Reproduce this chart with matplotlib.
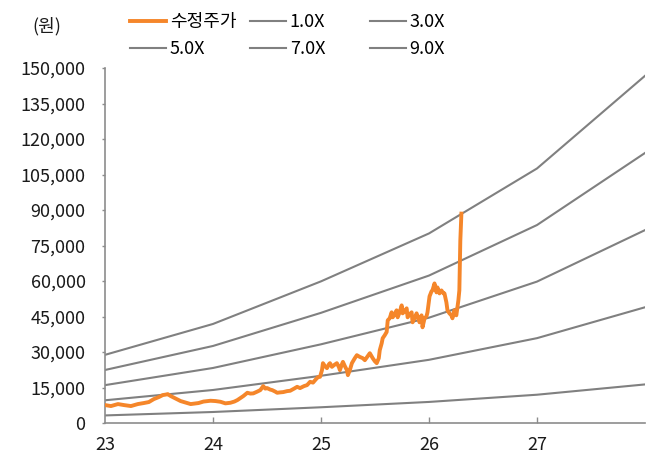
#!/usr/bin/env python

import numpy as np
import matplotlib.pyplot as plt
from matplotlib.ticker import FuncFormatter

plt.rcParams['font.family'] = ['Noto Sans CJK KR', 'DejaVu Sans']

# PBR band: book value per share at each year start, and the multiples
band_years = [23, 24, 25, 26, 27, 28]
bps = [3200, 4650, 6650, 8900, 11950, 16300]
multiples = [1.0, 3.0, 5.0, 7.0, 9.0]

# adjusted share price (year as fraction, won)
price_t = [
    23.000, 23.055, 23.120, 23.175, 23.240, 23.304, 23.359, 23.406, 23.452, 23.498,
    23.535, 23.562, 23.581, 23.608, 23.627, 23.664, 23.700, 23.747, 23.793, 23.829,
    23.866, 23.912, 23.949, 23.977, 24.023, 24.069, 24.115, 24.161, 24.198, 24.226,
    24.253, 24.281, 24.318, 24.346, 24.373, 24.410, 24.438, 24.465, 24.484, 24.502,
    24.530, 24.548, 24.576, 24.594, 24.622, 24.650, 24.687, 24.714, 24.751, 24.779,
    24.806, 24.843, 24.871, 24.899, 24.926, 24.954, 24.972, 24.991, 25.009, 25.018,
    25.037, 25.055, 25.074, 25.083, 25.101, 25.120, 25.147, 25.166, 25.175, 25.194,
    25.203, 25.221, 25.240, 25.249, 25.267, 25.286, 25.313, 25.332, 25.359, 25.387,
    25.406, 25.433, 25.452, 25.479, 25.498, 25.516, 25.535, 25.544, 25.562, 25.571,
    25.590, 25.608, 25.618, 25.636, 25.654, 25.664, 25.682, 25.700, 25.710, 25.728,
    25.747, 25.756, 25.774, 25.793, 25.802, 25.820, 25.839, 25.848, 25.866, 25.885,
    25.894, 25.912, 25.931, 25.940, 25.959, 25.977, 25.986, 26.005, 26.023, 26.032,
    26.051, 26.069, 26.078, 26.097, 26.115, 26.134, 26.143, 26.161, 26.171, 26.189,
    26.207, 26.217, 26.235, 26.253, 26.263, 26.272, 26.281, 26.290, 26.300,
]
price = [
    7580, 7160, 8000, 7580, 7160, 8000, 8430, 8850, 10100, 10950,
    11800, 12000, 12200, 11400, 10950, 10100, 9270, 8640, 8000, 8220,
    8430, 9060, 9270, 9400, 9270, 8970, 8300, 8550, 9060, 9690,
    10530, 11380, 12770, 12430, 12510, 13270, 13900, 15590, 14530, 14750,
    14110, 13900, 13270, 12770, 12940, 13060, 13480, 13610, 14530, 15290,
    14750, 15590, 16010, 17400, 17060, 18540, 19380, 19510, 22330, 25280,
    24010, 23170, 24860, 25280, 23720, 24440, 25280, 23590, 22330, 24860,
    25830, 24010, 22330, 20220, 22330, 25280, 27380, 28650, 27930, 27380,
    26540, 28230, 29490, 27380, 26120, 25280, 27380, 30750, 33700, 35810,
    37070, 38460, 43390, 44240, 46770, 44660, 45920, 47610, 44660, 46770,
    49710, 46340, 47190, 48450, 44660, 45920, 46770, 42550, 44240, 46340,
    45080, 42550, 45500, 40440, 44240, 45080, 46770, 53500, 55610, 56030,
    58980, 55190, 57300, 54770, 56030, 54770, 54770, 50980, 47610, 46340,
    45500, 44240, 47610, 45500, 48870, 51820, 56030, 77100, 88470,
]

band_color = '#808080'
price_color = '#F5862A'

fig = plt.figure(figsize=(6.53, 4.57), dpi=100)
ax = fig.add_axes([105 / 653, 34 / 457, 540 / 653, 355 / 457])

ax.plot(price_t, price, color=price_color, lw=2.8, label='수정주가', zorder=3)
band_lines = []
for m in multiples:
    ln, = ax.plot(band_years, np.array(bps) * m, color=band_color, lw=1.5,
                  label='{:.1f}X'.format(m), zorder=2)
    band_lines.append(ln)

ax.set_xlim(23, 28)
ax.set_ylim(0, 150000)
ax.set_xticks([23, 24, 25, 26, 27])
ax.set_yticks(np.arange(0, 150001, 15000))
ax.yaxis.set_major_formatter(FuncFormatter(lambda v, p: '{:,.0f}'.format(v)))

for s in ['top', 'right']:
    ax.spines[s].set_visible(False)
for s in ['left', 'bottom']:
    ax.spines[s].set_color('#8c8c8c')
    ax.spines[s].set_linewidth(1.2)

ax.tick_params(axis='x', direction='in', length=4, width=1, color='#8c8c8c',
               labelsize=13, pad=9, labelcolor='#1a1a1a')
ax.tick_params(axis='y', direction='out', length=2, width=1, color='#8c8c8c',
               labelsize=13, pad=12, labelcolor='#1a1a1a')
# first x label sits under the spine corner, no tick mark there
ax.xaxis.get_major_ticks()[0].tick1line.set_visible(False)

fig.text(47 / 653, 1 - 26 / 457, '(원)', fontsize=13, ha='center', va='center',
         color='#1a1a1a')

# legend: three columns of two rows each
price_line = ax.get_lines()[0]
columns = [
    (price_line, band_lines[2]),
    (band_lines[0], band_lines[3]),
    (band_lines[1], band_lines[4]),
]
for i, (a, b) in enumerate(columns):
    fig.legend([a, b], [a.get_label(), b.get_label()],
               loc='upper left', bbox_to_anchor=((130 + 120 * i) / 653, 1 - 13 / 457),
               frameon=False, fontsize=13, handlelength=2.0, handletextpad=0.2,
               labelspacing=0.5, borderpad=0, borderaxespad=0)

plt.savefig('out.png', dpi=100)
